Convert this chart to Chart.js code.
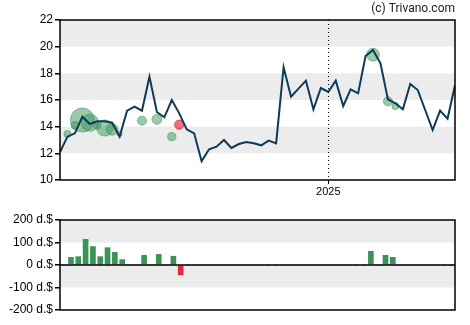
<!DOCTYPE html>
<html>
<head>
<meta charset="utf-8">
<script src="https://cdn.jsdelivr.net/npm/chart.js@4"></script>
<style>
  body { margin: 0; background: #fff; }
  #wrap { position: relative; width: 470px; height: 325px; }
  canvas { position: absolute; left: 0; }
  #price { top: 0; }
  #vol { top: 200px; }
</style>
</head>
<body>
<div id="wrap">
  <canvas id="price" width="470" height="200"></canvas>
  <canvas id="vol" width="470" height="125"></canvas>
</div>
<script>
// weekly closing price, one value per week
const prices = [12.1, 13.25, 13.5, 14.75, 14.2, 14.4, 14.4, 14.3, 13.25, 15.2,
  15.5, 15.2, 17.75, 15.1, 14.7, 16.0, 15.0, 13.8, 13.5, 11.4,
  12.3, 12.5, 13.0, 12.4, 12.7, 12.85, 12.75, 12.6, 12.95, 12.75,
  18.45, 16.25, 16.85, 17.45, 15.3, 16.9, 16.6, 17.45, 15.55, 16.8,
  16.5, 19.3, 19.75, 18.75, 16.05, 15.75, 15.3, 17.2, 16.75, 15.25,
  13.75, 15.2, 14.6, 17.1];

// insider trades: week index, price of trade, net amount (d.$)
const tradeWeeks = [1, 2, 3, 4, 5, 6, 7, 8, 11, 13, 15, 16, 42, 44, 45];
const tradePrices = [13.45, 14.1, 14.5, 14.3, 14.1, 13.9, 13.8, 13.45, 14.45, 14.55, 13.25, 14.15, 19.4, 15.9, 15.55];
const tradeAmounts = [34, 37, 114, 82, 37, 77, 56, 24, 43, 47, 39, -44, 61, 43, 34];

const yearLabel = '2025';
const yearWeek = 36;
const priceTicks = [10, 12, 14, 16, 18, 20, 22];
const volTicks = [-200, -100, 0, 100, 200];

const GREEN = '#3a9457';
const RED = '#e8283c';
const FONT = { family: 'Liberation Sans, Arial, sans-serif', size: 12 };

// shaded bands between every other pair of ticks + box around plot
const framePlugin = {
  id: 'frame',
  beforeDraw(chart) {
    const { ctx, chartArea: a } = chart;
    const y = chart.scales.y;
    const t = y.ticks;
    ctx.save();
    ctx.fillStyle = '#ececec';
    for (let k = 1; k < t.length - 1; k += 2) {
      const y1 = y.getPixelForValue(t[k].value);
      const y2 = y.getPixelForValue(t[k + 1].value);
      ctx.fillRect(a.left, y2, a.right - a.left, y1 - y2);
    }
    ctx.restore();
  },
  afterDraw(chart, args, opts) {
    const { ctx, chartArea: a } = chart;
    ctx.save();
    ctx.strokeStyle = '#000';
    ctx.lineWidth = 1.5;
    ctx.strokeRect(a.left, a.top, a.right - a.left, a.bottom - a.top);
    if (opts.zeroLine) {
      const y0 = chart.scales.y.getPixelForValue(0);
      ctx.lineWidth = 1.5;
      ctx.beginPath();
      ctx.moveTo(a.left, y0);
      ctx.lineTo(a.right, y0);
      ctx.stroke();
    }
    if (opts.yearLine) {
      const x = chart.scales.x.getPixelForValue(yearWeek);
      ctx.lineWidth = 1;
      ctx.setLineDash([1, 3]);
      ctx.beginPath();
      ctx.moveTo(Math.round(x) + 0.5, a.top);
      ctx.lineTo(Math.round(x) + 0.5, a.bottom);
      ctx.stroke();
      ctx.setLineDash([]);
    }
    if (opts.credit) {
      ctx.fillStyle = '#222';
      ctx.font = '12px Roboto, Arial, sans-serif';
      ctx.textAlign = 'right';
      ctx.textBaseline = 'middle';
      ctx.fillText(opts.credit, a.right, 9);
    }
    ctx.restore();
  }
};

const bubbles = tradeWeeks.map((w, i) => ({
  x: w, y: tradePrices[i], r: Math.abs(tradeAmounts[i]) / 9.5
}));

new Chart(document.getElementById('price'), {
  type: 'line',
  data: {
    datasets: [
      {
        type: 'line',
        data: prices.map((p, i) => ({ x: i, y: p })),
        borderColor: '#0e3a5a',
        borderWidth: 2,
        pointRadius: 0,
        tension: 0,
        order: 0
      },
      {
        type: 'bubble',
        data: bubbles,
        backgroundColor: tradeAmounts.map(v => v < 0 ? 'rgba(240,60,80,0.75)' : 'rgba(58,148,87,0.5)'),
        borderColor: tradeAmounts.map(v => v < 0 ? 'rgba(232,40,60,0.8)' : 'rgba(58,148,87,0.55)'),
        borderWidth: 1,
        order: 1
      }
    ]
  },
  options: {
    responsive: false,
    animation: false,
    layout: { padding: { top: 20, right: 15, left: 0, bottom: 0 } },
    plugins: {
      legend: { display: false },
      tooltip: { enabled: false },
      frame: { yearLine: true, credit: '(c) Trivano.com' }
    },
    scales: {
      x: {
        type: 'linear',
        min: 0,
        max: prices.length - 1,
        afterBuildTicks: s => { s.ticks = [{ value: yearWeek }]; },
        afterFit: s => { s.height = 20; },
        ticks: { callback: () => yearLabel, font: { ...FONT, size: 11 }, color: '#000', padding: 1, maxRotation: 0 },
        grid: { drawOnChartArea: false, tickLength: 4, color: '#000' },
        border: { display: false }
      },
      y: {
        min: 10,
        max: 22,
        afterBuildTicks: s => { s.ticks = priceTicks.map(v => ({ value: v })); },
        afterFit: s => { s.width = 60; },
        ticks: { font: FONT, color: '#000', padding: 2 },
        grid: { drawOnChartArea: false, tickLength: 5, color: '#000', lineWidth: 1.5 },
        border: { display: false }
      }
    }
  },
  plugins: [framePlugin]
});

const weekLabels = prices.map((p, i) => 'W' + (i + 1));
const volume = prices.map(() => 0);
tradeWeeks.forEach((w, i) => { volume[w] = tradeAmounts[i]; });

new Chart(document.getElementById('vol'), {
  type: 'bar',
  data: {
    labels: weekLabels,
    datasets: [{
      data: volume,
      backgroundColor: volume.map(v => v < 0 ? RED : GREEN),
      barThickness: 5
    }]
  },
  options: {
    responsive: false,
    animation: false,
    layout: { padding: { top: 20, right: 15, left: 0, bottom: 0 } },
    plugins: {
      legend: { display: false },
      tooltip: { enabled: false },
      frame: { zeroLine: true }
    },
    scales: {
      x: {
        offset: true,
        afterFit: s => { s.height = 15; },
        ticks: { display: false },
        grid: { display: false },
        border: { display: false }
      },
      y: {
        min: -200,
        max: 200,
        afterBuildTicks: s => { s.ticks = volTicks.map(v => ({ value: v })); },
        afterFit: s => { s.width = 60; },
        ticks: { font: FONT, color: '#000', padding: 2, callback: v => v + ' d.$' },
        grid: { drawOnChartArea: false, tickLength: 5, color: '#000', lineWidth: 1.5 },
        border: { display: false }
      }
    }
  },
  plugins: [framePlugin]
});
</script>
</body>
</html>
